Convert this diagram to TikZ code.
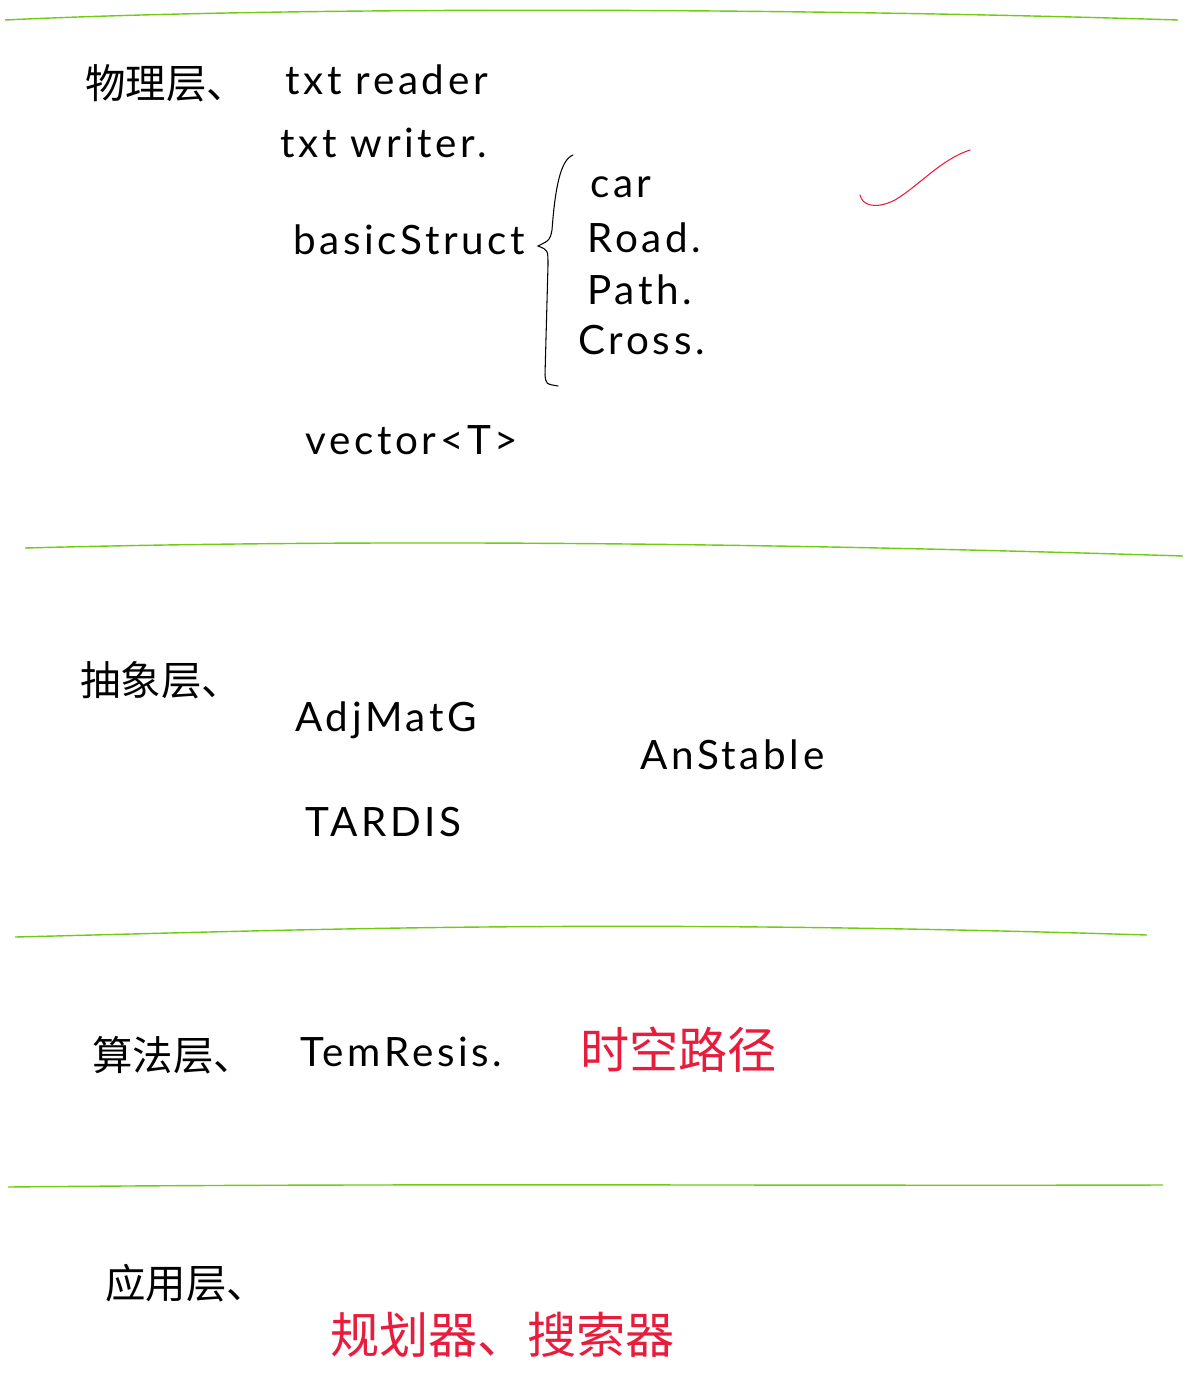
\documentclass[tikz,border=0pt]{standalone}
\usepackage{fontspec}
\setmainfont{Lato}
\newfontfamily\cjk{Noto Sans CJK SC}
\definecolor{pengreen}{RGB}{110,204,20}
\definecolor{penred}{RGB}{232,28,60}
\begin{document}
\begin{tikzpicture}
  [x=0.02cm,y=-0.02cm,
   layer/.style={anchor=west,inner sep=0,font=\cjk\fontsize{23}{27}\selectfont},
   item/.style={anchor=west,inner sep=0,
                font=\fontsize{23}{27}\selectfont\addfontfeature{LetterSpace=9}},
   note/.style={anchor=west,inner sep=0,text=penred,
                font=\cjk\fontsize{28}{32}\selectfont},
   rule/.style={draw=pengreen,thick},
   pen/.style={line width=0.6pt,line cap=round}]
  \useasboundingbox (0,0) rectangle (1188,1392);
  % layer separators
  \draw[rule] (5,20) .. controls (300,6) and (800,8) .. (1178,20);
  \draw[rule] (25,548) .. controls (400,538) and (800,544) .. (1183,556);
  \draw[rule] (15,937) .. controls (300,930) and (600,918) .. (1147,935);
  \draw[rule] (8,1187) .. controls (400,1183) and (800,1186) .. (1163,1185);
  % physical layer
  \node[layer] (phys) at (85,83) {物理层、};
  \node[item] (reader) at (285,80) {txt reader};
  \node[item] (writer) at (280,143) {txt writer.};
  \node[item] (basic) at (293,240) {basicStruct};
  \node[item] (car) at (590,187) {car};
  \node[item] (road) at (587,238) {Road.};
  \node[item] (path) at (587,290) {Path.};
  \node[item] (cross) at (578,340) {Cross.};
  \node[item] (vec) at (305,440) {vector<T>};
  \draw[pen] (573,155) .. controls (560,160) and (555,190) .. (552,230)
    .. controls (550,240) .. (538,246) .. controls (548,250) .. (548,265)
    -- (545,375) .. controls (546,384) .. (558,386);
  \draw[pen,penred] (860,195) .. controls (862,205) and (875,210) .. (895,200)
    .. controls (920,185) and (940,160) .. (970,150);
  % abstract layer
  \node[layer] (abst) at (80,680) {抽象层、};
  \node[item] (adj) at (295,720) {AdjMatG};
  \node[item] (stable) at (640,755) {AnStable};
  \node[item] (tardis) at (305,822) {TARDIS};
  % algorithm layer
  \node[layer] (algo) at (92,1055) {算法层、};
  \node[item] (resis) at (300,1052) {TemResis.};
  \node[note] (stpath) at (580,1050) {时空路径};
  % application layer
  \node[layer] (app) at (105,1283) {应用层、};
  \node[note] (plan) at (330,1335) {规划器、搜索器};
\end{tikzpicture}
\end{document}
